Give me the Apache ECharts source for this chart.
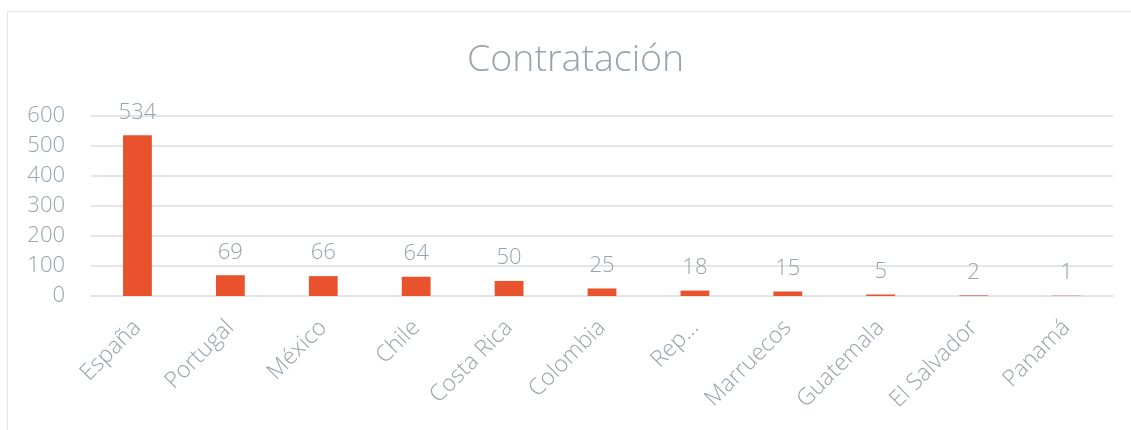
<!DOCTYPE html>
<html>
<head>
<meta charset="utf-8">
<script src="https://cdn.jsdelivr.net/npm/echarts@6/dist/echarts.min.js"></script>
<style>
html,body{margin:0;padding:0;background:#fff;}
#frame{position:absolute;left:7px;top:11px;width:1140px;height:430px;border:1px solid #e3e5e7;box-sizing:border-box;}
#c{position:absolute;left:0;top:0;width:1131px;height:430px;}
</style>
</head>
<body>
<div id="frame"></div>
<div id="c"></div>
<script>
const categories = ['España','Portugal','México','Chile','Costa Rica','Colombia','Rep...','Marruecos','Guatemala','El Salvador','Panamá'];
const values = [534, 69, 66, 64, 50, 25, 18, 15, 5, 2, 1];
const titleText = 'Contratación';

const txt = '#9aa2aa';
const font = '"Open Sans", sans-serif';
const chart = echarts.init(document.getElementById('c'));
chart.setOption({
  backgroundColor: 'transparent',
  animation: false,
  title: {
    text: titleText, left: 462, top: 36,
    textStyle: {color: txt, fontSize: 37.5, fontWeight: 300, fontFamily: font}
  },
  grid: {left: 91, right: 18, top: 115.5, bottom: 134, containLabel: false},
  xAxis: {
    type: 'category', data: categories,
    axisLine: {show: true, lineStyle: {color: '#e3e5e7', width: 2}},
    axisTick: {show: false},
    axisLabel: {rotate: 45, color: txt, fontSize: 23, fontWeight: 300, fontFamily: font, margin: 28, interval: 0}
  },
  yAxis: {
    type: 'value', min: 0, max: 600, interval: 100,
    axisLine: {show: false}, axisTick: {show: false},
    splitLine: {lineStyle: {color: '#e3e5e7', width: 2}},
    axisLabel: {color: txt, fontSize: 22, fontWeight: 300, fontFamily: font, margin: 26}
  },
  series: [{
    type: 'bar', data: values, barWidth: '31%',
    itemStyle: {color: '#e8522c'},
    label: {show: true, position: 'top', distance: 12, color: txt, fontSize: 22, fontWeight: 300, fontFamily: font}
  }]
});
</script>
</body>
</html>
